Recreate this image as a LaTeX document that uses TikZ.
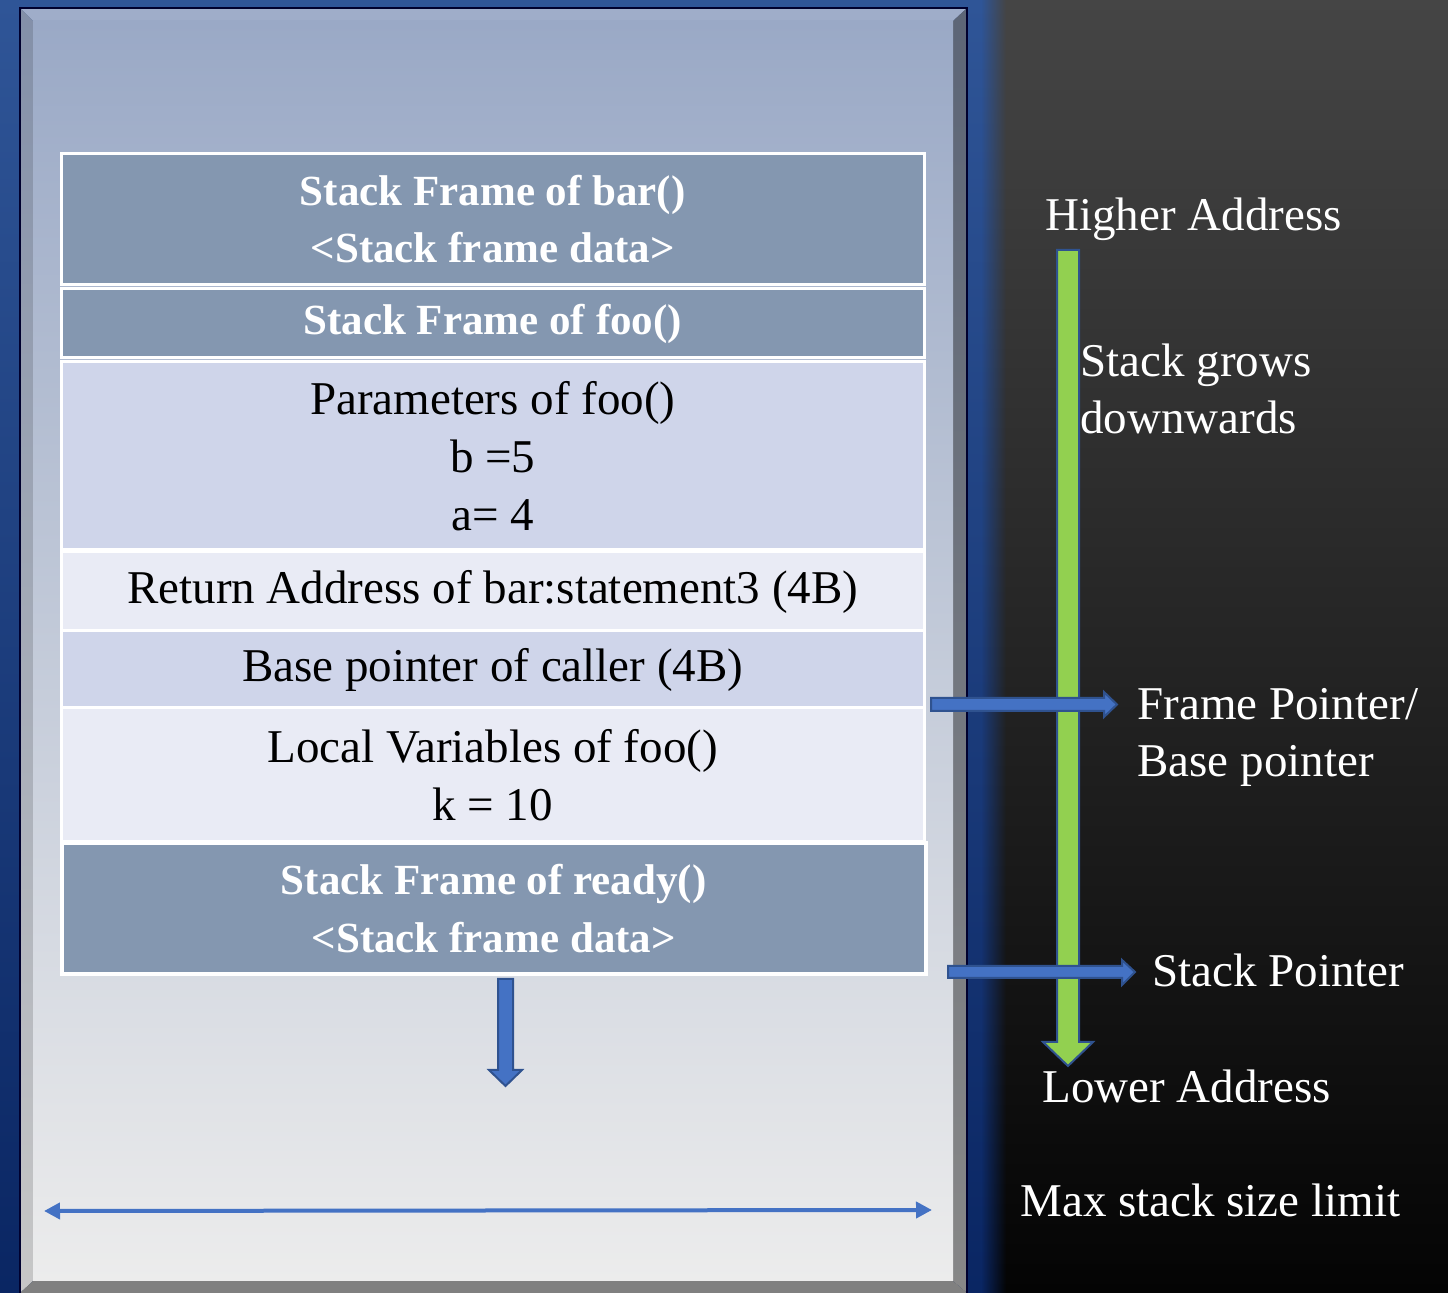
\documentclass[tikz,border=0pt]{standalone}
\usepackage{fontspec}
\setmainfont{Liberation Serif}
\usetikzlibrary{arrows.meta,fadings}

\definecolor{framefill}{HTML}{8497B0}
\definecolor{rowmid}{HTML}{CFD5EA}
\definecolor{rowlight}{HTML}{E9EBF5}
\definecolor{arrowblue}{HTML}{4472C4}
\definecolor{arrowedge}{HTML}{2F528F}
\definecolor{growgreen}{HTML}{92D050}
\definecolor{glowtop}{HTML}{2F5597}
\definecolor{glowbot}{HTML}{0A2663}
\definecolor{bgtop}{HTML}{454545}
\definecolor{bgbot}{HTML}{040404}
\definecolor{facetop}{HTML}{9AA9C6}
\definecolor{facemid}{HTML}{CDD1DA}
\definecolor{facebot}{HTML}{ECECEC}

\tikzset{
  framebox/.style={draw=white, line width=1.5pt, fill=framefill, text=white,
    font=\bfseries\fontsize{21.5}{28.75}\selectfont, align=center,
    minimum width=431.25pt, inner sep=0pt},
  rowbox/.style={draw=white, line width=1.5pt, text=black,
    font=\fontsize{23.5}{29}\selectfont, align=center,
    minimum width=431.25pt, inner sep=0pt},
  sidelabel/.style={text=white, font=\fontsize{23.5}{28.5}\selectfont,
    align=left, inner sep=0pt, anchor=base west},
  blockarrow/.style={fill=arrowblue, draw=arrowedge, line width=1pt, line join=miter},
  growarrow/.style={fill=growgreen, draw=arrowedge, line width=1pt, line join=miter},
  limitarrow/.style={draw=arrowblue, line width=2pt,
    {Triangle[length=8pt,width=8pt]}-{Triangle[length=8pt,width=8pt]}}
}

\begin{document}
\begin{tikzpicture}[x=0.5pt,y=-0.5pt]
  \useasboundingbox (0,0) rectangle (1448,1293);

  % dark backdrop
  \shade[top color=bgtop, bottom color=bgbot] (0,0) rectangle (1448,1293);
  % blue glow behind the panel
  \shade[top color=glowtop, bottom color=glowbot] (0,0) rectangle (982,1293);
  \shade[top color=glowtop, bottom color=glowbot, path fading=east] (981,0) rectangle (1006,1293);

  % bevelled panel
  \fill[facetop!95!white] (20,8) -- (967,8) -- (953,21) -- (33,21) -- cycle;
  \shade[top color=facetop!85!black, bottom color=black!22] (20,8) -- (33,21) -- (33,1281) -- (20,1293) -- cycle;
  \shade[top color=facetop!60!black, bottom color=black!47] (967,8) -- (953,21) -- (953,1281) -- (967,1293) -- cycle;
  \fill[black!50] (20,1293) -- (33,1281) -- (953,1281) -- (967,1293) -- cycle;
  \shade[top color=facetop, middle color=facemid, bottom color=facebot] (33,21) rectangle (953,1281);
  \draw[black!70!blue!60!black, line width=0.6pt] (20,1293) -- (20,8) -- (967,8) -- (967,1293);

  % stack frames
  \node (bar)  [framebox, minimum height=65.75pt] at (492.75,219.25)
    {Stack Frame of bar()\\{<}Stack frame data{>}};
  \node (foo)  [framebox, minimum height=34.5pt] at (492.75,323.5)
    {Stack Frame of foo()};
  \node (params) [rowbox, fill=rowmid, minimum height=94pt] at (492.75,456)
    {Parameters of foo()\\b =5\\a= 4};
  \node (ret)  [rowbox, fill=rowlight, minimum height=40pt] at (492.75,592)
    {Return Address of bar:statement3 (4B)};
  \node (base) [rowbox, fill=rowmid, minimum height=39pt] at (492.75,670)
    {Base pointer of caller (4B)};
  \node (local) [rowbox, fill=rowlight, minimum height=67pt] at (492.75,775)
    {Local Variables of foo()\\k = 10};
  \node (ready) [framebox, line width=2pt, minimum width=431.75pt, minimum height=65.25pt] at (493.75,908.75)
    {Stack Frame of ready()\\{<}Stack frame data{>}};

  % growth direction of the stack
  \draw[growarrow] (1057,250) -- (1079,250) -- (1079,1042) -- (1093,1042)
    -- (1068,1066) -- (1043,1042) -- (1057,1042) -- cycle;

  % pointer arrows
  \draw[blockarrow] (931,698) -- (1104,698) -- (1104,692) -- (1117,704.5)
    -- (1104,717) -- (1104,711) -- (931,711) -- cycle;
  \draw[blockarrow] (948,966) -- (1122,966) -- (1122,960) -- (1135,972)
    -- (1122,985) -- (1122,978) -- (948,978) -- cycle;

  % next frame below
  \draw[blockarrow] (498,979) -- (513,979) -- (513,1070) -- (522,1070)
    -- (505.5,1086) -- (489,1070) -- (498,1070) -- cycle;

  % stack size limit
  \coordinate (limL) at (44,1211);
  \coordinate (limR) at (932,1210);
  \draw[limitarrow] (limL) -- (limR);

  % labels (base west sits on the last line's baseline)
  \node (hi)   [sidelabel] at (1045,231) {Higher Address};
  \node (grow) [sidelabel] at (1080,434) {Stack grows\\downwards};
  \node (fp)   [sidelabel] at (1137,777) {Frame Pointer/\\Base pointer};
  \node (sp)   [sidelabel] at (1152,987) {Stack Pointer};
  \node (lo)   [sidelabel] at (1042,1103) {Lower Address};
  \node (max)  [sidelabel] at (1020,1217) {Max stack size limit};
\end{tikzpicture}
\end{document}
